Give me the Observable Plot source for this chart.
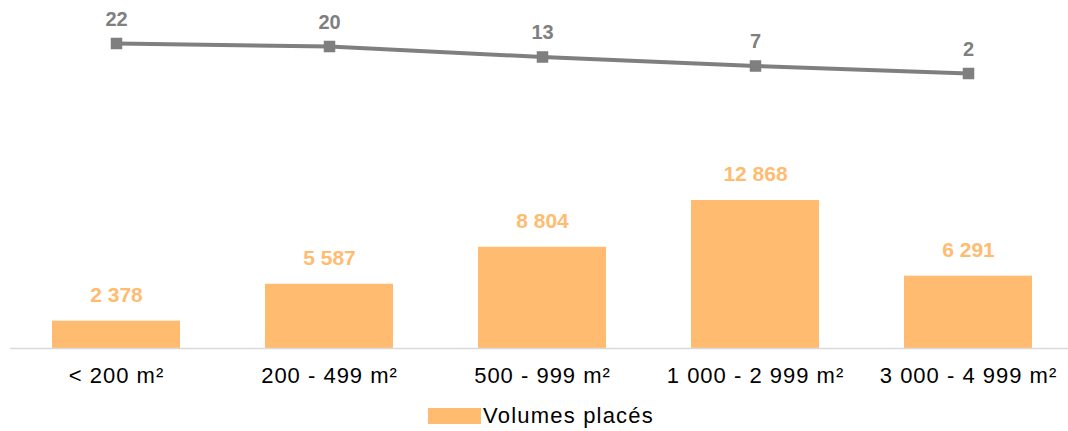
<!DOCTYPE html>
<html>
<head>
<meta charset="utf-8">
<script src="https://cdn.jsdelivr.net/npm/d3@7"></script>
<script src="https://cdn.jsdelivr.net/npm/@observablehq/plot@0.6"></script>
<style>
  html, body { margin: 0; padding: 0; background: #fff; }
  #chart { width: 1068px; }
  .legend { display: flex; justify-content: center; align-items: center; margin-top: 9px; font-family: "Liberation Sans", Arial, sans-serif; font-size: 22px; letter-spacing: 1.2px; color: #000; padding-left: 14px; height: 24px; }
  .legend .sw { width: 53px; height: 16px; background: #FFBC70; margin-right: 2px; }
</style>
</head>
<body>
<div id="chart"></div>
<script>
const categories = ["< 200 m²", "200 - 499 m²", "500 - 999 m²", "1 000 - 2 999 m²", "3 000 - 4 999 m²"];
const volumes = [2378, 5587, 8804, 12868, 6291];
const transactions = [22, 20, 13, 7, 2];

const barColor = "#FFBC70";
const lineColor = "#7F7F7F";
const fr = d3.formatLocale({decimal: ",", thousands: " ", grouping: [3], currency: ["", ""]}).format(",d");

const bars = categories.map((c, i) => ({cat: c, value: volumes[i]}));
const pts = categories.map((c, i) => ({cat: c, value: transactions[i]}));

// secondary axis mapped into primary units
const secondary = d3.scaleLinear([0, 22], [23652, 26522]);

const plot = Plot.plot({
  width: 1068,
  height: 395,
  marginTop: 0,
  marginBottom: 47,
  marginLeft: 0,
  marginRight: 0,
  style: {fontFamily: "Liberation Sans, Arial, sans-serif", background: "#fff"},
  x: {domain: categories, range: [8.5, 1075.5], paddingInner: 0.4, paddingOuter: 0.2, label: null, tickSize: 0, tickPadding: 19},
  y: {domain: [0, 30000], range: [348, 3], axis: null},
  marks: [
    Plot.barY(bars, {x: "cat", y: "value", fill: barColor}),
    Plot.ruleY([0], {stroke: "#D9D9D9", strokeWidth: 1.5, insetLeft: 10}),
    Plot.text(bars, {x: "cat", y: "value", text: d => fr(d.value), dy: -26, fill: barColor, fontSize: 21, fontWeight: "bold", letterSpacing: "0.8px"}),
    Plot.line(pts, {x: "cat", y: d => secondary(d.value), stroke: lineColor, strokeWidth: 4}),
    Plot.dot(pts, {x: "cat", y: d => secondary(d.value), symbol: "square", r: 6.5, fill: lineColor}),
    Plot.text(pts, {x: "cat", y: d => secondary(d.value), text: d => String(d.value), dy: -24, fill: lineColor, fontSize: 20, fontWeight: "bold", letterSpacing: "1.5px"})
  ]
});
const xl = plot.querySelector('[aria-label="x-axis tick label"]');
if (xl) { xl.setAttribute("font-size", "22"); xl.setAttribute("fill", "#000"); xl.setAttribute("letter-spacing", "1px"); }
document.getElementById("chart").appendChild(plot);

const leg = document.createElement("div");
leg.className = "legend";
leg.innerHTML = '<div class="sw"></div><span>Volumes placés</span>';
document.getElementById("chart").appendChild(leg);
</script>
</body>
</html>
